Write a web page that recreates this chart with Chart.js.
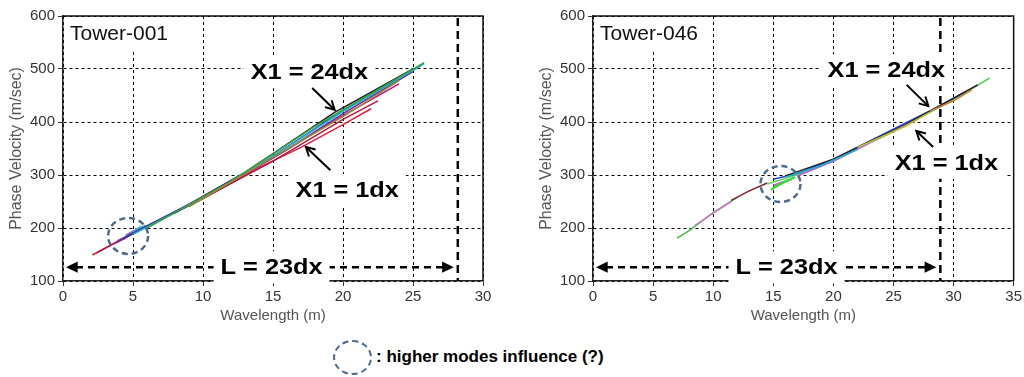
<!DOCTYPE html>
<html>
<head>
<meta charset="utf-8">
<script src="https://cdn.jsdelivr.net/npm/chart.js@4.4.1/dist/chart.umd.min.js"></script>
<style>
  html, body { margin: 0; padding: 0; background: #fff; width: 1024px; height: 377px; overflow: hidden; font-family: "Liberation Sans", Arial, sans-serif; }
  .box { position: absolute; top: 0; height: 330px; }
  #left { left: 0; width: 500px; }
  #right { left: 530px; width: 494px; }
  #ring { position: absolute; left: 333px; top: 340px; width: 39px; height: 35px; box-sizing: border-box; border: 2.5px dashed #4d6a8c; border-radius: 50%; }
  #note { position: absolute; left: 376px; top: 346px; font-weight: bold; font-size: 17px; line-height: 22px; color: #000; white-space: nowrap; }
</style>
</head>
<body>
<div class="box" id="left"><canvas id="c1" width="500" height="330"></canvas></div>
<div class="box" id="right"><canvas id="c2" width="494" height="330"></canvas></div>
<div id="ring"></div>
<div id="note">: higher modes influence (?)</div>
<script>
var FONT = '"Liberation Sans", Arial, sans-serif';

// Tower-001 curves, [wavelength m, phase velocity m/sec]
var t001Red     = [[2.1, 149], [5, 190], [10, 255], [14, 314], [17, 352], [20, 395], [22, 425]];
var t001Crimson = [[2.4, 153], [5.5, 198], [10, 256], [15, 326], [20, 405], [22.5, 440]];
var t001Magenta = [[3.6, 170], [6, 203], [10, 258], [15, 332], [20, 412], [24, 472]];
var t001Purple  = [[4, 176], [9, 245], [12, 290], [16, 348], [20, 416], [25, 495]];
var t001Blue    = [[4.5, 183], [9.5, 250], [14, 318], [19, 405], [25.6, 507]];
var t001Cyan    = [[5, 188], [10, 257], [16, 352], [20, 420], [25.8, 510]];
var t001Green   = [[6, 200], [12, 288], [18, 392], [25.8, 512]];
var t001Black   = [[8, 228], [13, 305], [19.4, 418], [25, 500]];
var t001Olive   = [[9, 240], [14, 318], [20, 410], [24, 478]];
var t001Mess1   = [[3.8, 172], [4.5, 183], [4.1, 178], [5.0, 191], [4.7, 186], [5.6, 203], [5.3, 195], [5.9, 205]];
var t001Mess2   = [[3.9, 176], [4.4, 180], [4.8, 190], [4.5, 186], [5.4, 199], [5.1, 193], [5.7, 201]];

// Tower-046 curves
var t046Green   = [[7, 181], [8, 195], [10, 229], [12, 258]];
var t046Pink    = [[8.5, 205], [10, 228], [11.5, 250]];
var t046Maroon  = [[11.5, 252], [13, 270], [14.5, 285]];
var t046Lime    = [[14.5, 283], [15.5, 290], [17.2, 302], [20, 328], [25, 382], [30, 442], [33, 483]];
var t046Blue    = [[15, 292], [17.2, 304], [20, 330], [24, 375], [28.8, 430], [31, 457]];
var t046Black   = [[16, 298], [20, 330], [26, 395], [30, 445], [32, 470]];
var t046Violet  = [[17, 298], [20, 326], [23, 360], [27, 405]];
var t046Cyan    = [[16, 296], [19, 318], [22, 348]];
var t046Yellow  = [[22, 352], [26, 392], [28, 418]];
var t046Orange  = [[28, 420], [30, 440], [31.5, 460]];
var t046Mess1   = [[14.8, 272], [15.5, 282], [15.2, 278], [16.2, 290], [15.8, 285], [16.8, 296]];
var t046Mess2   = [[15, 280], [15.7, 286], [15.4, 283], [16.5, 292]];

var yTicks = [100, 200, 300, 400, 500, 600];

var t001Series = [t001Olive, t001Green, t001Cyan, t001Blue, t001Black, t001Purple, t001Magenta, t001Crimson, t001Red, t001Mess1, t001Mess2];
var t001Colors = ['#a08a30', '#30a040', '#20b8d0', '#2040c0', '#222222', '#6a2a9a', '#c0108a', '#b01840', '#e0203a', '#20c8d8', '#c040c0'];
var t046Series = [t046Orange, t046Yellow, t046Cyan, t046Violet, t046Black, t046Blue, t046Lime, t046Maroon, t046Pink, t046Green, t046Mess1, t046Mess2];
var t046Colors = ['#d08030', '#c0c020', '#20b0d0', '#c060e0', '#222222', '#2040d0', '#60d060', '#802030', '#d070d0', '#40c040', '#30e030', '#d060d0'];

/* drawing helpers */
function boldText(ctx, txt, cx, cy) {
    var sx = 1.15;
    ctx.save();
    ctx.font = 'bold 22px ' + FONT;
    var w = ctx.measureText(txt).width * sx;
    ctx.fillStyle = '#fff';
    ctx.fillRect(cx - w / 2 - 7, cy - 16, w + 14, 32);
    ctx.translate(cx, cy);
    ctx.scale(sx, 1);
    ctx.fillStyle = '#000';
    ctx.textAlign = 'center';
    ctx.textBaseline = 'middle';
    ctx.fillText(txt, 0, 1);
    ctx.restore();
    return w;
}

function arrowHead(ctx, x1, y1, x2, y2, len, spread, filled) {
    var a = Math.atan2(y2 - y1, x2 - x1);
    ctx.beginPath();
    ctx.moveTo(x2 - len * Math.cos(a - spread), y2 - len * Math.sin(a - spread));
    ctx.lineTo(x2, y2);
    ctx.lineTo(x2 - len * Math.cos(a + spread), y2 - len * Math.sin(a + spread));
    if (filled) { ctx.closePath(); ctx.fill(); } else { ctx.stroke(); }
}

function notesPlugin(n) {
    return {
        id: 'notes',
        afterDatasetsDraw: function (chart) {
            var ctx = chart.ctx, xs = chart.scales.x, ys = chart.scales.y, area = chart.chartArea;
            var px = function (v) { return xs.getPixelForValue(v); };
            var py = function (v) { return ys.getPixelForValue(v); };
            ctx.save();

            // heavy dashed limit line
            ctx.strokeStyle = '#000';
            ctx.lineWidth = 2.5;
            ctx.setLineDash([8, 5]);
            ctx.beginPath();
            ctx.moveTo(px(n.limit), area.top + 2);
            ctx.lineTo(px(n.limit), area.bottom);
            ctx.stroke();
            ctx.setLineDash([]);

            // frame top / right
            ctx.strokeStyle = '#111';
            ctx.lineWidth = 1.5;
            ctx.beginPath();
            ctx.moveTo(area.left, area.top);
            ctx.lineTo(area.right, area.top);
            ctx.lineTo(area.right, area.bottom);
            ctx.stroke();

            // higher modes ring
            ctx.strokeStyle = '#4d6a8c';
            ctx.lineWidth = 2.5;
            ctx.setLineDash([6, 4]);
            ctx.beginPath();
            ctx.ellipse(px(n.ring[0]), py(n.ring[1]), 20, 18, 0, 0, Math.PI * 2);
            ctx.stroke();
            ctx.setLineDash([]);

            // L = 23dx dashed double arrow
            var ly = py(n.span[1]);
            var lx1 = px(0) + 3, lx2 = px(n.limit) - 4;
            ctx.strokeStyle = '#000';
            ctx.fillStyle = '#000';
            ctx.lineWidth = 2.5;
            ctx.setLineDash([7, 5]);
            ctx.beginPath();
            ctx.moveTo(lx1 + 10, ly);
            ctx.lineTo(lx2 - 10, ly);
            ctx.stroke();
            ctx.setLineDash([]);
            arrowHead(ctx, lx2, ly, lx1, ly, 13, 0.45, true);
            arrowHead(ctx, lx1, ly, lx2, ly, 13, 0.45, true);
            boldText(ctx, 'L = 23dx', px(n.span[0]), ly);

            // X1 labels and arrows
            boldText(ctx, 'X1 = 24dx', px(n.far[0]), py(n.far[1]));
            boldText(ctx, 'X1 = 1dx', px(n.near[0]), py(n.near[1]));
            ctx.strokeStyle = '#000';
            ctx.lineWidth = 2;
            [n.farArrow, n.nearArrow].forEach(function (a) {
                var x1 = px(a[0]), y1 = py(a[1]), x2 = px(a[2]), y2 = py(a[3]);
                ctx.beginPath();
                ctx.moveTo(x1, y1);
                ctx.lineTo(x2, y2);
                ctx.stroke();
                arrowHead(ctx, x1, y1, x2, y2, 10, 0.5, false);
            });

            // tower name
            ctx.font = '21px ' + FONT;
            var tw = ctx.measureText(n.title).width;
            ctx.fillStyle = '#fff';
            ctx.fillRect(area.left + 1, area.top + 1, tw + 16, 33);
            ctx.fillStyle = '#111';
            ctx.textBaseline = 'middle';
            ctx.fillText(n.title, area.left + 7, area.top + 18);
            ctx.restore();
        }
    };
}

function makeChart(id, series, colors, xMax, padRight, notes) {
    var last = series.length - 2;
    var datasets = series.map(function (s, i) {
        return {
            data: s.map(function (p) { return { x: p[0], y: p[1] }; }),
            borderColor: colors[i],
            borderWidth: i >= last ? 2.2 : 1.5,
            pointRadius: 0,
            fill: false,
            tension: 0
        };
    });
    var tickFont = { size: 15, family: FONT };
    return new Chart(document.getElementById(id), {
        type: 'line',
        data: { datasets: datasets },
        options: {
            responsive: false,
            animation: false,
            layout: { padding: { top: 16, right: padRight, left: 0, bottom: 0 } },
            plugins: { legend: { display: false }, tooltip: { enabled: false } },
            scales: {
                x: {
                    type: 'linear', min: 0, max: xMax,
                    ticks: { stepSize: 5, color: '#333', font: tickFont, padding: 2, maxRotation: 0 },
                    grid: { color: '#000', lineWidth: 1, tickLength: 5, tickColor: '#333' },
                    border: { color: '#222', width: 1.5, dash: [3, 3] },
                    title: { display: true, text: 'Wavelength (m)', color: '#555', font: { size: 15, family: FONT }, padding: { top: 0, bottom: 5 } },
                    afterFit: function (s) { s.height = 49; }
                },
                y: {
                    type: 'linear', min: yTicks[0], max: yTicks[yTicks.length - 1],
                    afterBuildTicks: function (s) { s.ticks = yTicks.map(function (v) { return { value: v }; }); },
                    ticks: { color: '#333', font: tickFont, padding: 3 },
                    grid: { color: '#000', lineWidth: 1, tickLength: 5, tickColor: '#333' },
                    border: { color: '#222', width: 1.5, dash: [3, 3] },
                    title: { display: true, text: 'Phase Velocity (m/sec)', color: '#555', font: { size: 16, family: FONT }, padding: { top: 7, bottom: 0 } },
                    afterFit: function (s) { s.width = 63; }
                }
            }
        },
        plugins: [notesPlugin(notes)]
    });
}

makeChart('c1', t001Series, t001Colors, 30, 17, {
    title: 'Tower-001', limit: 28.2, ring: [4.65, 185], span: [14.9, 126],
    far: [17.6, 494], farArrow: [17.8, 464, 19.4, 423],
    near: [20.3, 272], nearArrow: [19.1, 309, 17.35, 353]
});
makeChart('c2', t046Series, t046Colors, 35, 10, {
    title: 'Tower-046', limit: 28.9, ring: [15.6, 283], span: [16.1, 126],
    far: [24.4, 498], farArrow: [26.1, 470, 27.9, 430],
    near: [29.4, 323], nearArrow: [28.3, 353, 26.9, 383]
});
</script>
</body>
</html>
